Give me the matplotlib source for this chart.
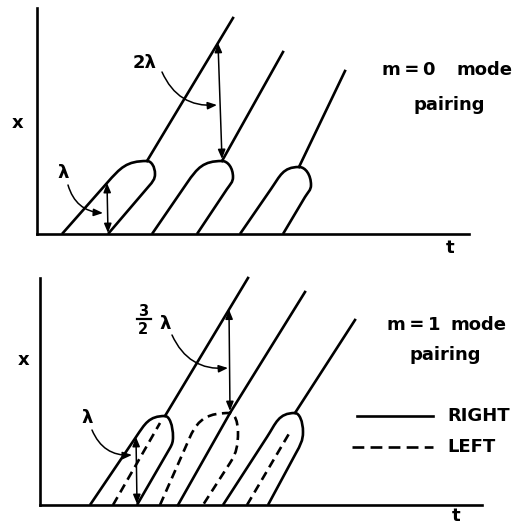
import matplotlib
matplotlib.use("Agg")
import matplotlib.pyplot as plt
import numpy as np
from matplotlib.path import Path
from matplotlib.patches import PathPatch, FancyArrowPatch

plt.rcParams["font.family"] = ["DejaVu Sans"]
plt.rcParams["lines.scale_dashes"] = False

# ---------------- upper panel: m = 0 mode pairing ----------------
up_left_foot = [25, 115, 203]
up_right_foot = [71, 160, 246]
up_left_knee_t = [70, 150, 234]
up_left_knee_x = [51, 51, 45]
up_tip_t = [110, 185, 262]
up_tip_x = [73, 73, 67]
up_edge_t = [118, 196, 274]
up_edge_x = [60, 57, 49]
up_right_knee_t = [112, 190, 268]
up_right_knee_x = [48, 45, 37]
up_end_t = [196, 246, 308]
up_end_x = [216, 182, 163]

# ---------------- lower panel: m = 1 mode pairing ----------------
lo_left_foot = [50, 120, 183]
lo_right_foot = [97, 163, 228]
lo_left_knee_t = [96, 150, 227]
lo_left_knee_x = [68, 68, 68]
lo_tip_t = [125, 190, 255]
lo_tip_x = [89, 92, 92]
lo_edge_t = [133, 198, 263]
lo_edge_x = [68, 73, 73]
lo_right_knee_t = [130, 190, 256]
lo_right_knee_x = [57, 42, 52]
lo_outline = ["solid", "dashed", "solid"]
lo_core_foot = [73, 138, 207]
lo_core_top_t = [120, 190, 250]
lo_core_top_x = [82, 92, 73]
lo_end_t = [208, 265, 315]
lo_end_x = [227, 213, 185]

legend_labels = ["RIGHT", "LEFT"]

W, H = 519, 527
LW = 1.9
ALW = 1.1
DASH = (0, (6.5, 4.0))
THIN = "\u2009"

fig = plt.figure(figsize=(W / 100, H / 100), dpi=100)


def make_axes(x0, y0, w, h):
    ax = fig.add_axes([x0 / W, (H - y0) / H, w / W, h / H])
    ax.set_xlim(0, w)
    ax.set_ylim(0, h)
    ax.set_facecolor("none")
    for side in ("top", "right"):
        ax.spines[side].set_visible(False)
    for side in ("left", "bottom"):
        ax.spines[side].set_linewidth(LW)
    ax.set_xticks([])
    ax.set_yticks([])
    return ax


def unit(dx, dy):
    n = np.hypot(dx, dy)
    return np.array([dx, dy]) / n


def finger(ax, lf, rf, lk, tip, edge, rk, ls):
    lk, tip, edge, rk = map(np.asarray, (lk, tip, edge, rk))
    u1 = unit(lk[0] - lf, lk[1])
    u2 = unit(rk[0] - rf, rk[1])
    d1 = np.hypot(*(tip - lk))
    a = 0.55 * (edge[0] - tip[0])
    b = 0.55 * (tip[1] - edge[1])
    d3 = np.hypot(*(edge - rk))
    verts = [
        (lf, 0), tuple(lk),
        tuple(lk + 0.45 * d1 * u1), tuple(tip - (0.45 * d1, 0)), tuple(tip),
        tuple(tip + (a, 0)), tuple(edge + (0, b)), tuple(edge),
        tuple(edge - (0, 0.4 * d3)), tuple(rk + 0.4 * d3 * u2), tuple(rk),
        (rf, 0),
    ]
    codes = [Path.MOVETO, Path.LINETO,
             Path.CURVE4, Path.CURVE4, Path.CURVE4,
             Path.CURVE4, Path.CURVE4, Path.CURVE4,
             Path.CURVE4, Path.CURVE4, Path.CURVE4,
             Path.LINETO]
    style = "-" if ls == "solid" else DASH
    ax.add_patch(PathPatch(Path(verts, codes), fill=False, lw=LW,
                           linestyle=style, color="black", clip_on=False,
                           capstyle="butt", joinstyle="round"))


def vert_arrow(ax, p0, p1):
    ax.add_patch(FancyArrowPatch(p0, p1, arrowstyle="<|-|>,head_length=0.55,head_width=0.22",
                                 mutation_scale=10, lw=ALW, color="black",
                                 shrinkA=0, shrinkB=0, clip_on=False))


def curved_arrow(ax, p0, p1, rad):
    ax.add_patch(FancyArrowPatch(p0, p1, arrowstyle="-|>,head_length=0.55,head_width=0.22",
                                 mutation_scale=10, lw=ALW, color="black",
                                 connectionstyle=f"arc3,rad={rad}",
                                 shrinkA=0, shrinkB=0, clip_on=False))


def on_line(t, a, b):
    return a[1] + (t - a[0]) * (b[1] - a[1]) / (b[0] - a[0])


TXT = dict(color="black", fontsize=13, fontweight="bold")
SMALL = dict(color="black", fontsize=10.5, fontweight="bold")

# ---------------- draw upper panel ----------------
ax1 = make_axes(37, 234, 432, 226)
for i in range(3):
    finger(ax1, up_left_foot[i], up_right_foot[i],
           (up_left_knee_t[i], up_left_knee_x[i]), (up_tip_t[i], up_tip_x[i]),
           (up_edge_t[i], up_edge_x[i]), (up_right_knee_t[i], up_right_knee_x[i]),
           "solid")
    ax1.plot([up_tip_t[i], up_end_t[i]], [up_tip_x[i], up_end_x[i]],
             color="black", lw=LW, clip_on=False)

# lambda: spacing of the incoming vortices
vert_arrow(ax1, (up_left_knee_t[0], up_left_knee_x[0]), (up_right_foot[0], 1))
curved_arrow(ax1, (31, 49), (up_left_knee_t[0] - 4, 21), 0.35)
ax1.text(26, 61, "λ", ha="center", va="center", **TXT)

# 2 lambda: spacing after pairing
t2 = up_tip_t[1] - 4
x2 = on_line(t2, (up_tip_t[0], up_tip_x[0]), (up_end_t[0], up_end_x[0]))
vert_arrow(ax1, (t2, x2), (up_tip_t[1], up_tip_x[1] + 2))
curved_arrow(ax1, (125, 162), (t2 - 1, 129), 0.35)
ax1.text(108, 171, "2λ", ha="center", va="center", **TXT)

ax1.text(345, 159, f"m{THIN}={THIN}0", ha="left", va="baseline", **TXT)
ax1.text(476, 159, "mode", ha="right", va="baseline", **TXT)
ax1.text(412, 124, "pairing", ha="center", va="baseline", **TXT)
ax1.text(-19, 111, "x", ha="center", va="center", **TXT)
ax1.text(413, -19, "t", ha="center", va="baseline", **TXT)

# ---------------- draw lower panel ----------------
ax2 = make_axes(40, 505, 442, 227)
for i in range(3):
    finger(ax2, lo_left_foot[i], lo_right_foot[i],
           (lo_left_knee_t[i], lo_left_knee_x[i]), (lo_tip_t[i], lo_tip_x[i]),
           (lo_edge_t[i], lo_edge_x[i]), (lo_right_knee_t[i], lo_right_knee_x[i]),
           lo_outline[i])
    core_style = "-" if lo_outline[i] == "dashed" else DASH
    ax2.plot([lo_core_foot[i], lo_core_top_t[i]], [0, lo_core_top_x[i]],
             color="black", lw=LW, linestyle=core_style, clip_on=False,
             dash_capstyle="butt")
    ax2.plot([lo_tip_t[i], lo_end_t[i]], [lo_tip_x[i], lo_end_x[i]],
             color="black", lw=LW, clip_on=False)

vert_arrow(ax2, (lo_left_knee_t[0], lo_left_knee_x[0]), (lo_right_foot[0], 1))
curved_arrow(ax2, (52, 75), (lo_left_knee_t[0] - 4, 50), 0.35)
ax2.text(47, 87, "λ", ha="center", va="center", **TXT)

t3 = lo_tip_t[1] - 1
x3 = on_line(t3, (lo_tip_t[0], lo_tip_x[0]), (lo_end_t[0], lo_end_x[0]))
vert_arrow(ax2, (t3, x3), (lo_tip_t[1], lo_tip_x[1] + 2))
curved_arrow(ax2, (132, 170), (t3 - 1, 137), 0.35)
ax2.text(103, 194, "3", ha="center", va="center", **SMALL)
ax2.plot([97, 111], [186, 186], color="black", lw=1.6, clip_on=False)
ax2.text(103, 176, "2", ha="center", va="center", **SMALL)
ax2.text(125, 181, "λ", ha="center", va="center", **TXT)

ax2.text(347, 175, f"m{THIN}={THIN}1", ha="left", va="baseline", **TXT)
ax2.text(467, 175, "mode", ha="right", va="baseline", **TXT)
ax2.text(405, 145, "pairing", ha="center", va="baseline", **TXT)
ax2.text(-16, 145, "x", ha="center", va="center", **TXT)
ax2.text(416, -16, "t", ha="center", va="baseline", **TXT)

# legend: solid = right-moving, dashed = left-moving
ax2.plot([317, 393], [89, 89], color="black", lw=LW, clip_on=False)
ax2.plot([312, 393], [58, 58], color="black", lw=LW, linestyle=(0, (8.5, 4.5)),
         clip_on=False, dash_capstyle="butt")
ax2.text(407, 89, legend_labels[0], ha="left", va="center", **TXT)
ax2.text(407, 58, legend_labels[1], ha="left", va="center", **TXT)

fig.savefig("out.png", dpi=100)
